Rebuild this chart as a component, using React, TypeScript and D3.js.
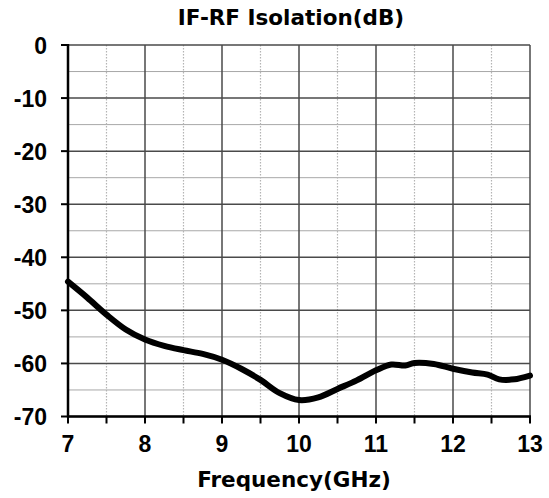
import React from "react"
import * as d3 from "d3"

// Frequency (GHz) and isolation (dB)
const freq = [7.0, 7.25, 7.5, 7.75, 8.0, 8.25, 8.5, 8.75, 9.0, 9.25, 9.5, 9.75, 10.0, 10.25, 10.5, 10.75, 11.0, 11.2, 11.38, 11.5, 11.75, 12.0, 12.25, 12.45, 12.6, 12.8, 13.0]
const isolation = [-44.6, -47.6, -50.8, -53.6, -55.5, -56.7, -57.5, -58.2, -59.3, -61.0, -63.1, -65.6, -66.9, -66.4, -64.8, -63.2, -61.3, -60.2, -60.4, -59.9, -60.1, -61.0, -61.7, -62.1, -63.0, -63.0, -62.3]

const xTicks = [7, 8, 9, 10, 11, 12, 13]
const xMinor = [7.5, 8.5, 9.5, 10.5, 11.5, 12.5]
const yTicks = [0, -10, -20, -30, -40, -50, -60, -70]
const yMinor = [-5, -15, -25, -35, -45, -55, -65]

const W = 549
const H = 498
const margin = { left: 68, right: 19, top: 45, bottom: 81.5 }

export default function App() {
  const x = d3.scaleLinear().domain([7, 13]).range([margin.left, W - margin.right])
  const y = d3.scaleLinear().domain([0, -70]).range([margin.top, H - margin.bottom])

  const pts = freq.map((f, i) => [f, isolation[i]] as [number, number])
  const line = d3
    .line<[number, number]>()
    .x((d) => x(d[0]))
    .y((d) => y(d[1]))
    .curve(d3.curveCatmullRom.alpha(0.5))

  const [x0, x1] = x.range()
  const [y0, y1] = y.range()
  const labelFont = "'Liberation Sans', Arial, sans-serif"
  const titleFont = "'DejaVu Sans', Verdana, sans-serif"

  return (
    <svg width={W} height={H} style={{ position: "absolute", left: 0, top: 0, background: "#fff" }}>
      {/* minor grid */}
      {yMinor.map((v) => (
        <line key={"ym" + v} x1={x0} x2={x1} y1={y(v)} y2={y(v)} stroke="#a8a8a8" strokeWidth={1} />
      ))}
      {xMinor.map((v) => (
        <line key={"xm" + v} x1={x(v)} x2={x(v)} y1={y0} y2={y1} stroke="#b4b4b4" strokeWidth={1.2} strokeDasharray="1.5,1.5" />
      ))}
      {/* major grid */}
      {yTicks.map((v) => (
        <line key={"yg" + v} x1={x0} x2={x1} y1={y(v)} y2={y(v)} stroke="#4a4a4a" strokeWidth={1.5} />
      ))}
      {xTicks.map((v) => (
        <line key={"xg" + v} x1={x(v)} x2={x(v)} y1={y0} y2={y1} stroke="#4a4a4a" strokeWidth={1.5} />
      ))}
      {/* axes */}
      <line x1={x0} x2={x0} y1={y0 - 1} y2={y1 + 1} stroke="#000" strokeWidth={2.5} />
      <line x1={x0 - 1} x2={x1 + 1} y1={y1} y2={y1} stroke="#000" strokeWidth={2.5} />
      {/* ticks */}
      {yTicks.map((v) => (
        <line key={"yt" + v} x1={x0 - 7} x2={x0} y1={y(v)} y2={y(v)} stroke="#000" strokeWidth={2} />
      ))}
      {[...xTicks, ...xMinor].map((v) => (
        <line key={"xt" + v} x1={x(v)} x2={x(v)} y1={y1} y2={y1 + 7} stroke="#000" strokeWidth={2} />
      ))}
      {/* tick labels */}
      {yTicks.map((v) => (
        <text key={"yl" + v} x={47} y={y(v) + 8.5} textAnchor="end" fontFamily={labelFont} fontWeight="bold" fontSize={23} fill="#000">
          {v}
        </text>
      ))}
      {xTicks.map((v) => (
        <text key={"xl" + v} x={x(v)} y={452} textAnchor="middle" fontFamily={labelFont} fontWeight="bold" fontSize={23} fill="#000">
          {v}
        </text>
      ))}
      {/* curve */}
      <path d={line(pts) ?? ""} fill="none" stroke="#000" strokeWidth={6} strokeLinejoin="round" strokeLinecap="round" />
      {/* titles */}
      <text x={291} y={25} textAnchor="middle" fontFamily={titleFont} fontWeight="bold" fontSize={21.5} fill="#000">
        IF-RF Isolation(dB)
      </text>
      <text x={294} y={487} textAnchor="middle" fontFamily={titleFont} fontWeight="bold" fontSize={21.5} fill="#000">
        Frequency(GHz)
      </text>
    </svg>
  )
}
